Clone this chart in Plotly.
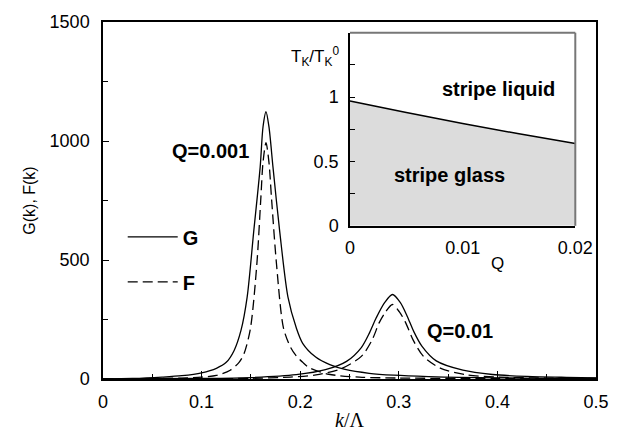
import plotly.graph_objects as go

# ---- main panel data ----
k_g1 = [0, 0.03, 0.06, 0.08, 0.1, 0.115, 0.125, 0.133, 0.140, 0.1462, 0.1528, 0.1594, 0.1623,
        0.1653, 0.1683, 0.1724, 0.1793, 0.1876, 0.196, 0.2025, 0.2157, 0.23, 0.2455, 0.27,
        0.295, 0.33, 0.3615, 0.4, 0.45, 0.5]
g1 = [0, 2, 8, 14, 26, 45, 70, 120, 205, 344, 617, 890, 1060,
      1123, 1060, 890, 617, 344, 215, 150, 92, 60, 40, 24,
      16, 10, 7, 5, 3, 2]

k_f1 = [0, 0.05, 0.08, 0.1, 0.115, 0.129, 0.138, 0.143, 0.1494, 0.156, 0.16, 0.1623,
        0.1653, 0.1683, 0.171, 0.176, 0.183, 0.19, 0.196, 0.2025, 0.209, 0.229, 0.26,
        0.3, 0.4, 0.5]
f1 = [0, 2, 4, 8, 15, 37, 70, 106, 209, 481, 754, 911,
      993, 911, 754, 481, 215, 135, 97, 70, 48, 20, 8,
      4, 2, 1]

k_g2 = [0, 0.1, 0.15, 0.196, 0.2256, 0.247, 0.262, 0.2704, 0.277, 0.2856, 0.2936, 0.3016,
        0.3085, 0.315, 0.3234, 0.338, 0.365, 0.395, 0.43, 0.47, 0.5]
g2 = [0, 2, 6, 18, 39, 74, 132, 195, 256, 321, 355, 321,
      264, 201, 138, 76, 37, 19, 11, 7, 5]

k_f2 = [0, 0.1, 0.15, 0.19, 0.216, 0.242, 0.262, 0.2727, 0.2803, 0.2866, 0.2936, 0.3006,
        0.3068, 0.315, 0.325, 0.342, 0.368, 0.4, 0.45, 0.5]
f2 = [0, 1, 3, 8, 17, 44, 95, 162, 238, 282, 313, 282,
      238, 160, 95, 46, 18, 8, 4, 2]

x_ticks = [0, 0.1, 0.2, 0.3, 0.4, 0.5]
x_tick_text = ["0", "0.1", "0.2", "0.3", "0.4", "0.5"]
y_ticks = [0, 500, 1000, 1500]
y_tick_text = ["0", "500", "1000", "1500"]

# ---- inset data ----
q_inset = [0, 0.005, 0.01, 0.015, 0.02]
tk_inset = [0.97, 0.88, 0.795, 0.715, 0.64]
inset_x_ticks = [0, 0.01, 0.02]
inset_x_text = ["0", "0.01", "0.02"]
inset_y_ticks = [0, 0.5, 1]
inset_y_text = ["0", "0.5", "1"]

FONT = "Liberation Sans, Arial, sans-serif"
solid = dict(color="black", width=1.3, shape="spline", smoothing=0.8)
dashed = dict(color="black", width=1.3, shape="spline", smoothing=0.8, dash="10px,5px")

fig = go.Figure()
fig.add_trace(go.Scatter(x=k_g1, y=g1, mode="lines", line=solid, name="G",
                         legendgroup="G", xaxis="x", yaxis="y"))
fig.add_trace(go.Scatter(x=k_f1, y=f1, mode="lines", line=dashed, name="F",
                         legendgroup="F", xaxis="x", yaxis="y"))
fig.add_trace(go.Scatter(x=k_g2, y=g2, mode="lines", line=solid, showlegend=False,
                         xaxis="x", yaxis="y"))
fig.add_trace(go.Scatter(x=k_f2, y=f2, mode="lines", line=dashed, showlegend=False,
                         xaxis="x", yaxis="y"))
fig.add_trace(go.Scatter(x=q_inset, y=tk_inset, mode="lines", fill="tozeroy",
                         fillcolor="#dcdcdc", line=dict(color="black", width=1.5, shape="spline"),
                         showlegend=False, xaxis="x2", yaxis="y2"))

fig.update_layout(
    width=626, height=445,
    margin=dict(l=103, r=20, t=13, b=66),
    paper_bgcolor="white", plot_bgcolor="white",
    font=dict(family=FONT, size=18, color="black"),
    xaxis=dict(domain=[0, 1], range=[0, 0.5], tickmode="array", tickvals=x_ticks,
               ticktext=x_tick_text, ticks="inside", ticklen=8, tickwidth=1, tickcolor="black",
               minor=dict(tickvals=[0.05, 0.15, 0.25, 0.35, 0.45], ticks="inside", ticklen=5,
                          tickcolor="black"),
               showline=True, linecolor="black", linewidth=1.5, mirror=True,
               showgrid=False, zeroline=False, ticklabelstandoff=6,
               title=dict(text="<i>k</i>/Λ", font=dict(family="Liberation Serif, Times New Roman, serif",
                                                     size=20), standoff=2)),
    yaxis=dict(domain=[0, 1], range=[0, 1500], tickmode="array", tickvals=y_ticks,
               ticktext=y_tick_text, ticks="inside", ticklen=6, tickwidth=1, tickcolor="black",
               minor=dict(tickvals=[250, 750, 1250], ticks="inside", ticklen=5, tickcolor="black"),
               showline=True, linecolor="black", linewidth=1.5, mirror=True,
               showgrid=False, zeroline=False, ticklabelstandoff=8,
               title=dict(text="G(k), F(k)", font=dict(size=16), standoff=10)),
    xaxis2=dict(domain=[0.501, 0.958], anchor="y2", range=[0, 0.02], tickmode="array",
                tickvals=inset_x_ticks, ticktext=inset_x_text, ticks="",
                showline=True, linecolor="black", linewidth=1.5, mirror=False,
                showgrid=False, zeroline=False, ticklabelstandoff=5),
    yaxis2=dict(domain=[0.429, 0.970], anchor="x2", range=[0, 1.5], tickmode="array",
                tickvals=inset_y_ticks, ticktext=inset_y_text, ticks="inside", ticklen=5,
                tickcolor="black",
                minor=dict(tickvals=[0.25, 0.75, 1.25], ticks="inside", ticklen=5, tickcolor="black"),
                showline=True, linecolor="black", linewidth=1.5, mirror=False,
                showgrid=False, zeroline=False, ticklabelstandoff=6),
    legend=dict(x=0.04, y=0.453, xanchor="left", yanchor="top", bgcolor="rgba(0,0,0,0)",
                font=dict(family=FONT, size=20, color="black", weight="bold"),
                tracegroupgap=16, itemwidth=50),
    showlegend=True,
)

# inset frame top/right in gray
fig.add_shape(type="line", xref="x2 domain", yref="y2 domain", x0=0, x1=1, y0=1, y1=1,
              line=dict(color="#777777", width=2))
fig.add_shape(type="line", xref="x2 domain", yref="y2 domain", x0=1, x1=1, y0=0, y1=1,
              line=dict(color="#777777", width=2))

bold = dict(family=FONT, size=20, color="black", weight="bold")
fig.add_annotation(x=0.109, y=959, xref="x", yref="y", text="Q=0.001", showarrow=False, font=bold)
fig.add_annotation(x=0.362, y=200, xref="x", yref="y", text="Q=0.01", showarrow=False, font=bold)
fig.add_annotation(x=0.01322, y=1.06, xref="x2", yref="y2", text="stripe liquid",
                   showarrow=False, font=bold)
fig.add_annotation(x=0.00887, y=0.394, xref="x2", yref="y2", text="stripe glass",
                   showarrow=False, font=bold)
fig.add_annotation(x=0.431, y=0.862, xref="paper", yref="paper", yanchor="bottom",
                   text="T<sub>K</sub>/T<sub>K</sub><sup>0</sup>", showarrow=False,
                   font=dict(family=FONT, size=17, color="black"))
fig.add_annotation(x=0.818, y=0.290, xref="paper", yref="paper", text="Q", showarrow=False,
                   font=dict(family=FONT, size=17, color="black"))

fig.write_html("out.html", config={"displayModeBar": False},
               post_script="document.body.style.margin='0';document.body.style.overflow='hidden';")
